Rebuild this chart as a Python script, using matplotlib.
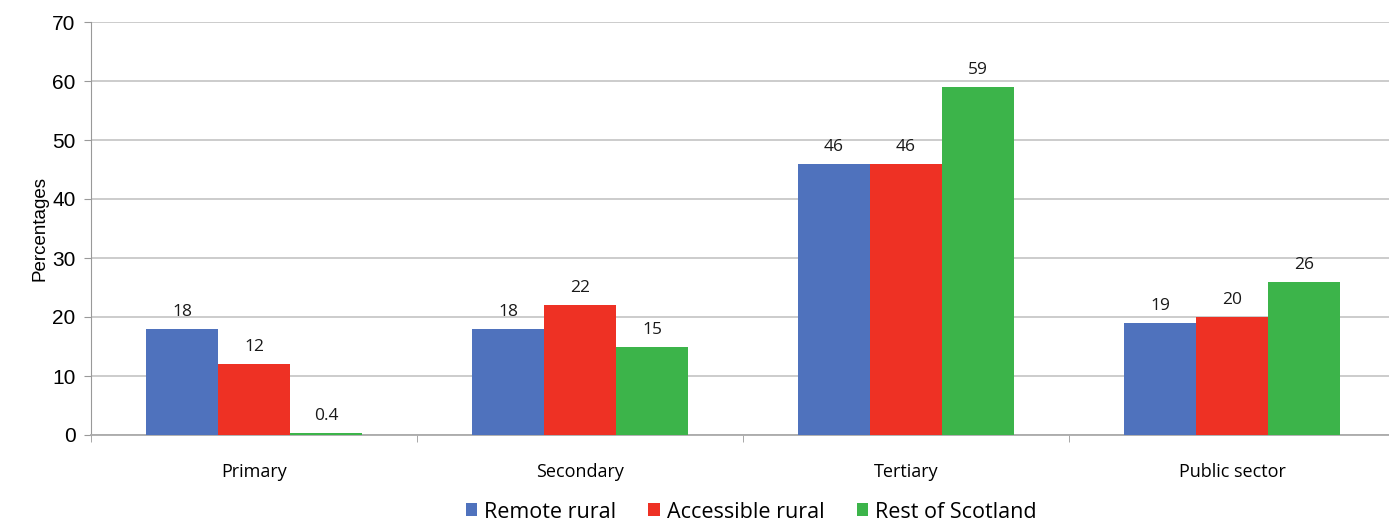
import matplotlib
matplotlib.use("Agg")
import matplotlib.pyplot as plt
import numpy as np

categories = ["Primary", "Secondary", "Tertiary", "Public sector"]
series_names = ["Remote rural", "Accessible rural", "Rest of Scotland"]
remote_rural = [18, 18, 46, 19]
accessible_rural = [12, 22, 46, 20]
rest_of_scotland = [0.4, 15, 59, 26]
y_ticks = [0, 10, 20, 30, 40, 50, 60, 70]

colors = ["#4f72bd", "#ee3124", "#3cb44a"]
values = [remote_rural, accessible_rural, rest_of_scotland]

fig = plt.figure(figsize=(13.89, 5.24), dpi=100)
ax = fig.add_axes([91 / 1389, 1 - 435 / 524, 1304 / 1389, 413 / 524])

x = np.arange(len(categories))
bw = 72 / 326
for i, (name, vals, c) in enumerate(zip(series_names, values, colors)):
    pos = x + (i - 1) * bw
    ax.bar(pos, vals, width=bw, color=c, label=name, zorder=3)
    for p, v in zip(pos, vals):
        ax.text(p, v + 1.5, f"{v:g}", ha="center", va="bottom",
                fontsize=12.5, family="Open Sans", fontweight="medium",
                color="#1a1a1a", zorder=4)

ax.set_xlim(-0.5, len(categories) - 0.5)
ax.set_ylim(0, 70)
ax.set_yticks(y_ticks)
ax.set_yticklabels([str(t) for t in y_ticks], family="Liberation Sans", fontsize=15)
ax.yaxis.grid(True, color="#c8c8c8", linewidth=1.3, zorder=0)
ax.set_axisbelow(True)

ax.set_xticks(x)
ax.set_xticklabels(categories, family="Open Sans", fontsize=13)
ax.tick_params(axis="x", length=0, pad=20)
ax.set_xticks(np.arange(len(categories) + 1) - 0.5, minor=True)
ax.tick_params(axis="x", which="minor", length=5, color="#999999")
ax.tick_params(axis="y", length=5, color="#999999", pad=6)

for s in ["top", "right"]:
    ax.spines[s].set_visible(False)
ax.spines["left"].set_color("#999999")
ax.spines["bottom"].set_color("#aaaaaa")
ax.spines["bottom"].set_linewidth(1.3)

ax.set_ylabel("Percentages", family="Liberation Sans", fontsize=13.5, labelpad=3)

leg = fig.legend(loc="center", bbox_to_anchor=(751 / 1389, 1 - 512 / 524), ncol=3,
                 frameon=False, prop={"family": "Open Sans", "size": 15.5},
                 handlelength=0.55, handleheight=0.55, handletextpad=0.3,
                 columnspacing=1.5)

fig.savefig("out.png", dpi=100)
